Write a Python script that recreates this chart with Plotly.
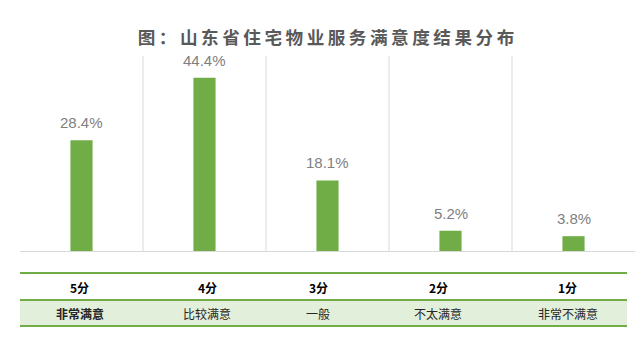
import plotly.graph_objects as go

# Survey results: share of respondents per satisfaction score
scores = ["5分", "4分", "3分", "2分", "1分"]
ratings = ["非常满意", "比较满意", "一般", "不太满意", "非常不满意"]
shares = [28.4, 44.4, 18.1, 5.2, 3.8]

title_text = "图：山东省住宅物业服务满意度结果分布"

GREEN = "#70AD47"
LIGHT_GREEN = "#E2EFDA"
GRID = "#D9D9D9"
CJK = "Noto Sans CJK SC, Noto Sans, sans-serif"

W, H = 640, 343
M_L, M_R, M_T, M_B = 20, 5, 56, 92
PLOT_H = H - M_T - M_B
PLOT_W = W - M_L - M_R

# centre of each table column, in pixels (the table cells are not equal width)
TABLE_COL_X = [79.5, 207, 318, 438, 567.5]


def py(pix):
    """Convert a pixel row (from the top of the page) to paper y."""
    return (H - M_B - pix) / PLOT_H


def px(pix):
    """Convert a pixel column to paper x."""
    return (pix - M_L) / PLOT_W


fig = go.Figure(
    go.Bar(
        x=scores,
        y=shares,
        width=0.18,
        marker=dict(color=GREEN, line=dict(width=0)),
        hoverinfo="skip",
    )
)

shapes = []
# vertical separators between categories
for i in range(len(scores) - 1):
    shapes.append(dict(type="line", xref="x", yref="paper", x0=i + 0.5, x1=i + 0.5,
                       y0=0, y1=1, line=dict(color=GRID, width=1), layer="below"))

# table beneath the chart
shapes.append(dict(type="rect", xref="paper", yref="paper", x0=0, x1=px(627),
                   y0=py(326), y1=py(300), fillcolor=LIGHT_GREEN, line=dict(width=0)))
for row in (273, 300, 326):
    shapes.append(dict(type="line", xref="paper", yref="paper", x0=0, x1=px(627),
                       y0=py(row), y1=py(row), line=dict(color=GREEN, width=2)))

annotations = []
# value labels above bars
for s, v in zip(scores, shares):
    annotations.append(dict(x=s, y=v, xref="x", yref="y", text=f"{v:.1f}%",
                            showarrow=False, yanchor="bottom", yshift=7,
                            font=dict(family="Liberation Sans, Arial, sans-serif",
                                      size=15, color="#7F7F7F")))
# table text
for i, (s, r) in enumerate(zip(scores, ratings)):
    cx = px(TABLE_COL_X[i])
    annotations.append(dict(x=cx, y=py(287), xref="paper", yref="paper", text=f"<b>{s}</b>",
                            showarrow=False, xanchor="center", yanchor="middle",
                            font=dict(family=CJK, size=12, color="#000000")))
    label = f"<b>{r}</b>" if i == 0 else r
    annotations.append(dict(x=cx, y=py(313), xref="paper", yref="paper", text=label,
                            showarrow=False, xanchor="center", yanchor="middle",
                            font=dict(family=CJK, size=12, color="#262626")))

fig.update_layout(
    width=W, height=H,
    margin=dict(l=M_L, r=M_R, t=M_T, b=M_B),
    paper_bgcolor="white", plot_bgcolor="white",
    showlegend=False,
    title=dict(text="<b>" + "\u2009".join(title_text) + "</b>",
               x=326 / W, xanchor="center", y=1 - 38 / H, yanchor="middle",
               font=dict(family=CJK, size=17.6, color="#595959")),
    xaxis=dict(type="category", showgrid=False, showticklabels=False, ticks="",
               showline=True, linecolor=GRID, linewidth=1, zeroline=False,
               range=[-0.5, len(scores) - 0.5], fixedrange=True),
    yaxis=dict(range=[0, 50], showgrid=False, showticklabels=False, ticks="",
               zeroline=False, showline=False, fixedrange=True),
    shapes=shapes,
    annotations=annotations,
)

fig.write_html("out.html")
